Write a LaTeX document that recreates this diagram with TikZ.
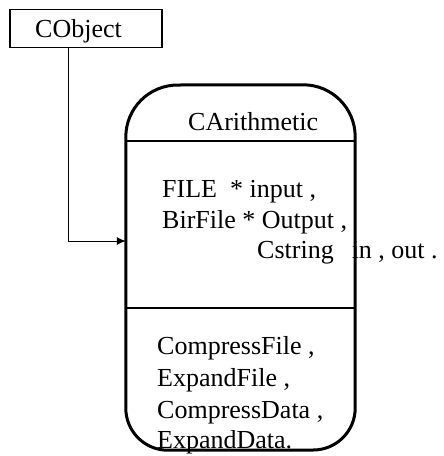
\documentclass[tikz,border=0pt]{standalone}
\usepackage{fontspec}
\setmainfont{Liberation Serif}
\usetikzlibrary{arrows.meta}
\tikzset{
  txt/.style={anchor=base west, inner sep=0pt, font=\fontsize{26}{31}\selectfont},
  classbox/.style={draw=none, minimum width=229pt, minimum height=365pt, inner sep=0pt},
  outline/.style={line width=3pt},
  divider/.style={line width=1.6pt},
  thinbox/.style={draw, line width=1.1pt, minimum width=152pt, minimum height=38pt, inner sep=0pt},
  inherit/.style={line width=1pt, -{Latex[length=9pt,width=8pt]}}
}
\begin{document}
\begin{tikzpicture}[x=1pt, y=-1pt]
  \useasboundingbox[fill=white] (0,0) rectangle (444,456);

  % base class
  \node[thinbox] (cobj) at (86,28.5) {};
  \node[txt] (cobjname) at (35,37) {CObject};

  % derived class frame (named area)
  \node[classbox] (arith) at (240.5,267.5) {};

  % class name and members
  \node[txt] (cname) at (188,130) {CArithmetic};
  \node[txt] (a1) at (162,197) {FILE\ \ * input ,};
  \node[txt] (a2) at (162,228) {BirFile * Output ,};
  \node[txt] (a3) at (257,258) {Cstring\hspace{18pt}in , out .};
  \node[txt] (m1) at (157,354) {CompressFile ,};
  \node[txt] (m2) at (157,386) {ExpandFile ,};
  \node[txt] (m3) at (157,418) {CompressData ,};
  \node[txt] (m4) at (157,448) {ExpandData.};

  % compartments
  \draw[divider] (arith.west |- 0,141) -- (arith.east |- 0,141);
  \draw[divider] (arith.west |- 0,308) -- (arith.east |- 0,308);

  % rounded outline (y axis points down, so angles run clockwise)
  \draw[outline]
    (arith.west |- 0,300)
    -- (arith.west |- 0,137) arc[start angle=180, end angle=270, radius=52]
    -- ([xshift=-52pt]arith.north east) arc[start angle=270, end angle=360, radius=52]
    -- (arith.east |- 0,408) arc[start angle=0, end angle=90, radius=42]
    -- ([xshift=42pt]arith.south west) arc[start angle=90, end angle=180, radius=42]
    -- cycle;

  % inheritance connector
  \coordinate (bend) at ([xshift=-18pt]cobj.south |- 0,241);
  \draw[inherit] ([xshift=-18pt]cobj.south) -- (bend) -- (arith.west |- bend);
\end{tikzpicture}
\end{document}
